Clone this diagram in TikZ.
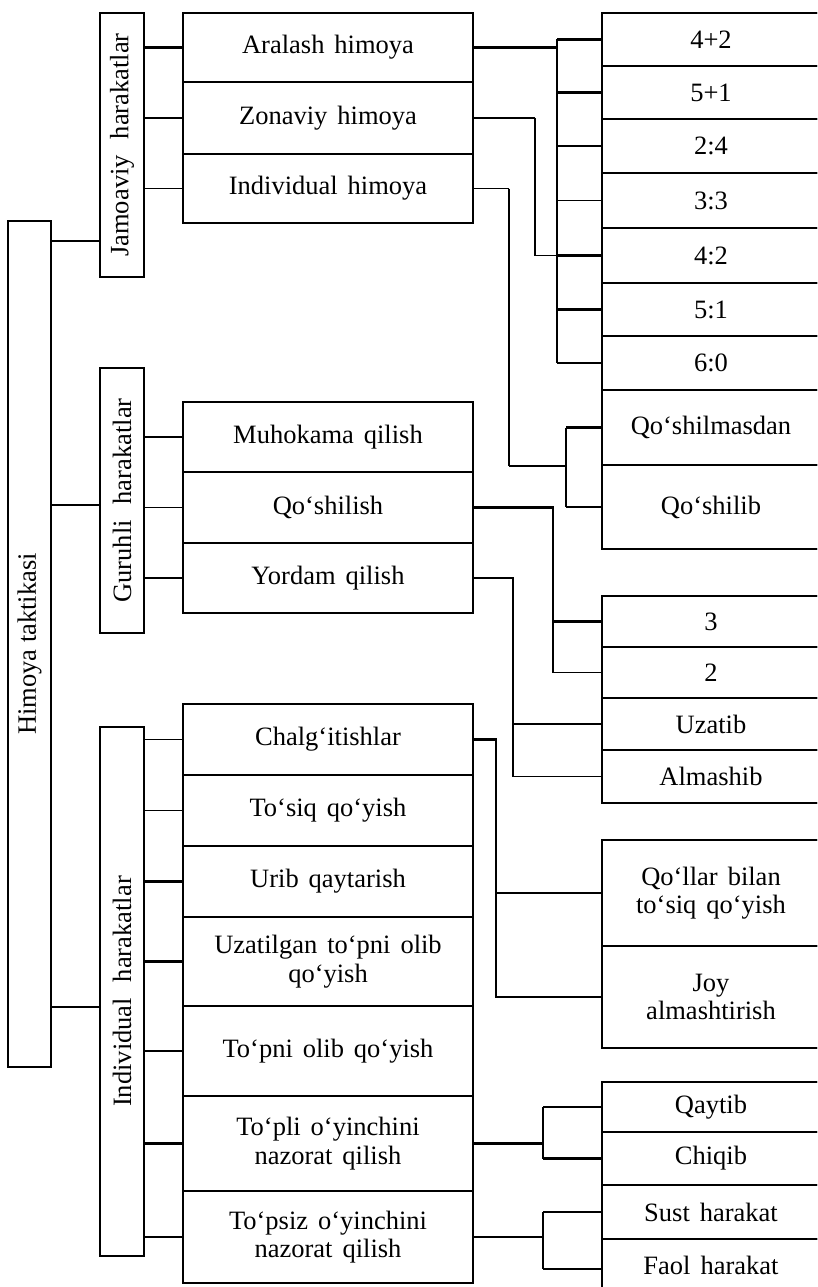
\documentclass[tikz,border=0pt]{standalone}
\usepackage{fontspec}
\setmainfont{Liberation Serif}[WordSpace=1.5]
\usepackage{graphicx}
\newcommand\myfs{\fontsize{26.5}{28.5}\selectfont}
\newcommand\vtext[1]{\rotatebox{90}{\spaceskip=0.6em\relax #1}}
\begin{document}
\begin{tikzpicture}[x=1pt,y=-1pt,
  thk/.style={line width=2.6pt},
  thn/.style={line width=1.2pt},
  med/.style={line width=1.8pt},
  box/.style={draw, line width=1.2pt, anchor=north west, inner sep=0pt, outer sep=0pt, align=center, font=\myfs},
  lbox/.style={box, minimum width=290pt},
  rbox/.style={box, minimum width=218pt},
  vbox/.style={draw, line width=2pt, anchor=north west, inner sep=0pt, outer sep=0pt, minimum width=44pt, font=\myfs}]
\useasboundingbox (0,0) rectangle (817,1287);
\clip (0,0) rectangle (817,1287);

% vertical boxes
\node[vbox, minimum width=43pt, minimum height=846pt] (him) at (8,221) {\rotatebox{90}{\spaceskip=0.25em\relax Himoya taktikasi}};
\node[vbox, minimum height=264pt] (jam) at (100,13) {\vtext{Jamoaviy harakatlar}};
\node[vbox, minimum height=265pt] (gur) at (100,368) {\vtext{Guruhli harakatlar}};
\node[vbox, minimum height=529pt] (ind) at (100,727) {\vtext{Individual harakatlar}};

% column 1
\node[lbox, minimum height=69pt] (aral) at (183,13) {Aralash himoya};
\node[lbox, minimum height=72pt] (zon) at (183,82) {Zonaviy himoya};
\node[lbox, minimum height=69pt] (indh) at (183,154) {Individual himoya};

% column 2
\node[lbox, minimum height=70pt] (muh) at (183,402) {Muhokama qilish};
\node[lbox, minimum height=71pt] (qos) at (183,472) {Qo‘shilish};
\node[lbox, minimum height=70pt] (yor) at (183,543) {Yordam qilish};

% column 3
\node[lbox, minimum height=71pt] (cha) at (183,704) {Chalg‘itishlar};
\node[lbox, minimum height=71pt] (tos) at (183,775) {To‘siq qo‘yish};
\node[lbox, minimum height=71pt] (uri) at (183,846) {Urib qaytarish};
\node[lbox, minimum height=89pt] (uzt) at (183,917) {Uzatilgan to‘pni olib\\qo‘yish};
\node[lbox, minimum height=90pt] (top) at (183,1006) {To‘pni olib qo‘yish};
\node[lbox, minimum height=95pt] (tpl) at (183,1096) {To‘pli o‘yinchini\\nazorat qilish};
\node[lbox, minimum height=92pt] (tps) at (183,1191) {To‘psiz o‘yinchini\\nazorat qilish};

% right column 1
\node[rbox, minimum height=53pt] (ra) at (602,13) {4+2};
\node[rbox, minimum height=53pt] (rb) at (602,66) {5+1};
\node[rbox, minimum height=54pt] (rc) at (602,119) {2:4};
\node[rbox, minimum height=55pt] (rd) at (602,173) {3:3};
\node[rbox, minimum height=55pt] (re) at (602,228) {4:2};
\node[rbox, minimum height=53pt] (rf) at (602,283) {5:1};
\node[rbox, minimum height=54pt] (rg) at (602,336) {6:0};
\node[rbox, minimum height=75pt] (qsm) at (602,390) {Qo‘shilmasdan};
\node[rbox, minimum height=84pt] (qsb) at (602,465) {Qo‘shilib};

% right column 2
\node[rbox, minimum height=51pt] (t3) at (602,596) {3};
\node[rbox, minimum height=51pt] (t2) at (602,647) {2};
\node[rbox, minimum height=52pt] (uza) at (602,698) {Uzatib};
\node[rbox, minimum height=53pt] (alm) at (602,750) {Almashib};

% right column 3
\node[rbox, minimum height=106pt] (qol) at (602,840) {Qo‘llar bilan\\to‘siq qo‘yish};
\node[rbox, minimum height=102pt] (joy) at (602,946) {Joy\\almashtirish};

% right column 4
\node[rbox, minimum height=50pt] (qay) at (602,1082) {Qaytib};
\node[rbox, minimum height=53pt] (chi) at (602,1132) {Chiqib};
\node[rbox, minimum height=54pt] (sus) at (602,1185) {Sust harakat};
\node[rbox, minimum height=60pt] (fao) at (602,1239) {\raisebox{7pt}{Faol harakat}};

% thick frames
\draw[thk] (aral.north west) rectangle (indh.south east);
\draw[thk] (muh.north west) rectangle (yor.south east);
\draw[thk] (cha.north west) rectangle (tps.south east);
\draw[thk] (ra.north west) rectangle (qsb.south east);
\draw[thk] (t3.north west) rectangle (alm.south east);
\draw[thk] (qol.north west) rectangle (joy.south east);
\draw[thk] (qay.north west) rectangle (fao.south east);

% thick separators
\foreach \n in {aral,zon,rb,rc,re,rf,qsm,muh,t3,t2,uza,cha,tos,uzt,qol,sus}
  \draw[thk] (\n.south west) -- (\n.south east);

% level 1 connectors
\coordinate (cj) at (0,241);
\coordinate (cg) at (0,505);
\coordinate (ci) at (0,1007);
\draw[thk] (him.east |- cj) -- (jam.west |- cj);
\draw[thk] (him.east |- cg) -- (gur.west |- cg);
\draw[thn] (him.east |- ci) -- (ind.west |- ci);

% level 2 connectors
\draw[thk] (jam.east |- aral.west) -- (aral.west);
\draw[thn] (jam.east |- zon.west) -- (zon.west);
\draw[thn] (jam.east |- indh.west) -- (indh.west);
\draw[thn] (gur.east |- muh.west) -- (muh.west);
\draw[thn] (gur.east |- qos.west) -- (qos.west);
\draw[thn] (gur.east |- yor.west) -- (yor.west);
\draw[thn] (ind.east |- cha.west) -- (cha.west);
\draw[thn] (ind.east |- tos.west) -- (tos.west);
\foreach \n in {uri,uzt,top,tpl,tps}
  \draw[thk] (ind.east |- \n.west) -- (\n.west);

% bracket for right column 1
\coordinate (bx) at (557,0);
\draw[thk] (aral.east) -- (aral.east -| bx);
\draw[thk] (bx |- ra.west) -- (bx |- rg.west);
\foreach \n in {ra,rb,rc,re,rf,rg}
  \draw[thk] (bx |- \n.west) -- (\n.west);
\draw[thn] (bx |- rd.west) -- (rd.west);

% Zonaviy himoya
\coordinate (zx) at (535,0);
\draw[thn] (zon.east) -- (zon.east -| zx);
\draw[med] (zon.east -| zx) -- (zx |- re.west) -- (re.west -| bx);

% Individual himoya
\coordinate (ix) at (509,0);
\coordinate (bq) at (566,0);
\coordinate (cq) at (0,466);
\draw[thn] (indh.east) -- (indh.east -| ix);
\draw[med] (indh.east -| ix) -- (ix |- cq);
\draw[thn] (ix |- cq) -- (cq -| bq);
\draw[thk] (bq |- qsm.west) -- (bq |- qsb.west);
\draw[thk] (bq |- qsm.west) -- (qsm.west);
\draw[thk] (bq |- qsb.west) -- (qsb.west);

% Qo'shilish
\coordinate (qx) at (553,0);
\draw[thk] (qos.east) -| (qx |- t3.west) -- (t3.west);
\draw[thk] (qx |- t3.west) -- (qx |- t2.west);
\draw[thn] (qx |- t2.west) -- (t2.west);

% Yordam qilish
\coordinate (yx) at (513,0);
\draw[thk] (yor.east) -| (yx |- uza.west) -- (uza.west);
\draw[thk] (yx |- uza.west) -- (yx |- alm.west);
\draw[thn] (yx |- alm.west) -- (alm.west);

% Chalg'itishlar
\coordinate (cx) at (496,0);
\draw[thk] (cha.east) -| (cx |- joy.west) -- (joy.west);
\draw[thn] (cx |- qol.west) -- (qol.west);

% To'pli / To'psiz
\coordinate (px) at (543,0);
\draw[thk] (tpl.east) -- (tpl.east -| px);
\draw[thk] (px |- qay.west) -- (px |- chi.west);
\draw[thn] (px |- qay.west) -- (qay.west);
\draw[thk] (px |- chi.west) -- (chi.west);
\draw[thn] (tps.east) -- (tps.east -| px);
\draw[thk] (px |- sus.west) -- (px |- fao.west);
\draw[thk] (px |- sus.west) -- (sus.west);
\draw[thn] (px |- fao.west) -- (fao.west);
\end{tikzpicture}
\end{document}
